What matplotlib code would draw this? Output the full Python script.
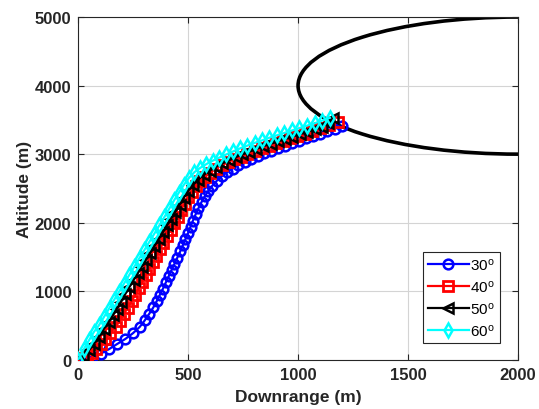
import matplotlib
matplotlib.use('Agg')
import matplotlib.pyplot as plt
from matplotlib.patches import Ellipse

plt.rcParams['font.family'] = ['Liberation Sans', 'DejaVu Sans']
plt.rcParams['mathtext.default'] = 'regular'

# trajectories (downrange, altitude) for each launch angle
x30 = [0, 30, 65, 102, 140, 177, 215, 250, 280, 303, 323, 342, 358, 372, 386, 399, 412, 425, 438, 451,
       464, 476, 488, 500, 511, 522, 534, 547, 561, 576, 592, 610, 630, 652, 676, 702, 729, 757, 786, 816,
       846, 877, 908, 940, 972, 1004, 1036, 1068, 1100, 1133, 1166, 1200]
y30 = [0, 12, 45, 88, 155, 230, 305, 390, 480, 575, 670, 765, 860, 950, 1040, 1130, 1220, 1310, 1400, 1490,
       1580, 1670, 1760, 1850, 1940, 2030, 2120, 2210, 2300, 2385, 2465, 2540, 2610, 2675, 2735, 2790, 2840, 2885, 2930, 2970,
       3010, 3050, 3090, 3125, 3160, 3195, 3230, 3265, 3300, 3335, 3370, 3405]

x40 = [0, 20, 41, 62, 82, 102, 124, 147, 170, 190, 208, 225, 243, 260, 276, 292, 308, 324, 340, 356,
       372, 388, 404, 420, 436, 452, 468, 484, 500, 517, 536, 556, 578, 601, 626, 652, 680, 709, 739, 770,
       802, 834, 866, 898, 930, 963, 996, 1030, 1064, 1098, 1140, 1180]
y40 = [0, 25, 63, 100, 160, 225, 300, 390, 480, 570, 665, 760, 855, 950, 1045, 1140, 1235, 1330, 1425, 1520,
       1615, 1710, 1805, 1900, 1995, 2090, 2185, 2280, 2370, 2455, 2535, 2605, 2670, 2730, 2785, 2835, 2880, 2925, 2965, 3005,
       3045, 3085, 3125, 3160, 3195, 3230, 3265, 3300, 3340, 3380, 3425, 3470]

x50 = [0, 24, 49, 71, 94, 117, 140, 158, 177, 195, 215, 233, 252, 271, 290, 309, 328, 347, 366, 385,
       404, 423, 442, 461, 480, 500, 522, 546, 572, 599, 627, 656, 686, 716, 747, 778, 810, 842, 875, 908,
       941, 974, 1008, 1042, 1076, 1110, 1135, 1160]
y50 = [0, 60, 136, 233, 331, 452, 550, 647, 744, 842, 963, 1060, 1160, 1260, 1360, 1460, 1560, 1660, 1760, 1860,
       1960, 2060, 2160, 2260, 2360, 2460, 2550, 2630, 2700, 2760, 2815, 2865, 2910, 2955, 2995, 3035, 3075, 3115, 3150, 3185,
       3220, 3255, 3290, 3325, 3360, 3400, 3450, 3520]

x60 = [0, 26, 49, 71, 94, 117, 140, 162, 185, 208, 231, 254, 277, 300, 323, 346, 369, 392, 414, 436,
       458, 480, 503, 528, 555, 583, 612, 642, 673, 705, 737, 770, 803, 836, 870, 904, 938, 972, 1006, 1040,
       1075, 1110, 1145]
y60 = [0, 160, 282, 404, 501, 623, 744, 866, 988, 1109, 1230, 1352, 1474, 1595, 1717, 1838, 1960, 2082, 2203, 2325,
       2440, 2550, 2650, 2735, 2800, 2855, 2905, 2950, 2995, 3040, 3085, 3125, 3165, 3200, 3240, 3275, 3310, 3345, 3380, 3415,
       3450, 3490, 3530]

# target region boundary
circle_center = (2000, 4000)
circle_radius = 1000

labels = ['30$^{o}$', '40$^{o}$', '50$^{o}$', '60$^{o}$']

fig = plt.figure(figsize=(5.39, 4.10), dpi=100)
ax = fig.add_axes([0.145, 0.12, 0.816, 0.836])

ax.add_patch(Ellipse(circle_center, 2 * circle_radius, 2 * circle_radius,
                     fill=False, edgecolor='black', linewidth=2.6, zorder=2))

ax.plot(x30, y30, '-o', color='blue', lw=1.6, ms=7, mew=1.8, mfc='none', label=labels[0], zorder=3)
ax.plot(x40, y40, '-s', color='red', lw=1.6, ms=6.5, mew=2.0, mfc='none', label=labels[1], zorder=3)
ax.plot(x50, y50, '-<', color='black', lw=1.6, ms=7, mew=1.8, mfc='none', label=labels[2], zorder=3)
ax.plot(x60, y60, '-d', color='cyan', lw=1.6, ms=7, mew=1.8, mfc='none', label=labels[3], zorder=3)

ax.set_xlim(0, 2000)
ax.set_ylim(0, 5000)
ax.set_xticks([0, 500, 1000, 1500, 2000])
ax.set_yticks([0, 1000, 2000, 3000, 4000, 5000])
ax.grid(True, color='#d4d4d4', linewidth=0.8)
ax.set_axisbelow(True)
ax.tick_params(direction='in', top=True, right=True, labelsize=12, length=4, width=0.8,
               colors='#262626', pad=5)
for lab in ax.get_xticklabels() + ax.get_yticklabels():
    lab.set_fontweight('bold')
for sp in ax.spines.values():
    sp.set_color('#262626')
    sp.set_linewidth(0.8)

ax.set_xlabel('Downrange (m)', fontsize=12.5, fontweight='bold', color='#262626', labelpad=5)
ax.set_ylabel('Altitude (m)', fontsize=12.5, fontweight='bold', color='#262626', labelpad=2)

leg = ax.legend(loc='lower right', bbox_to_anchor=(0.965, 0.04), fontsize=11, handlelength=2.7,
                fancybox=False, edgecolor='#262626', framealpha=1, borderpad=0.3,
                labelspacing=0.4, handletextpad=0.1, borderaxespad=0.2)
leg.get_frame().set_linewidth(0.8)

fig.savefig('out.png', dpi=100)
